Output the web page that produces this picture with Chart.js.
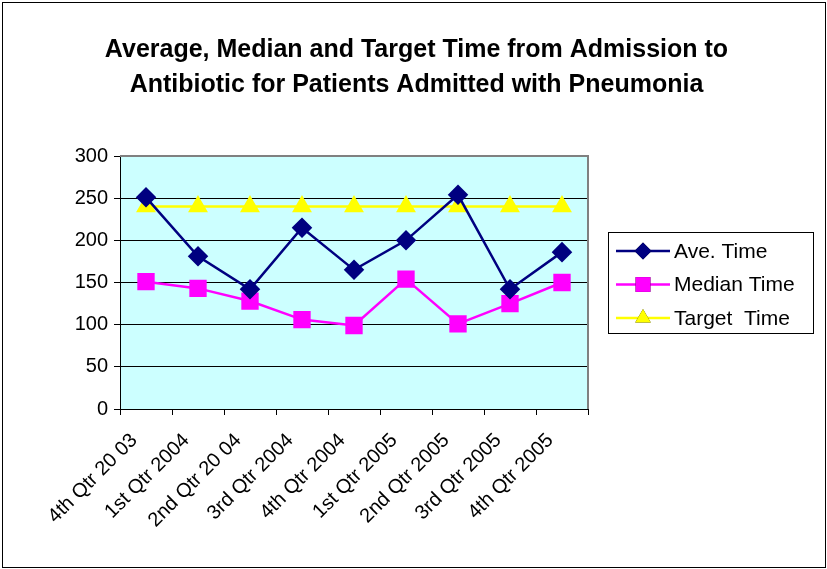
<!DOCTYPE html>
<html>
<head>
<meta charset="utf-8">
<script src="https://cdn.jsdelivr.net/npm/chart.js@4"></script>
<style>
  html, body { margin: 0; padding: 0; background: #fff; }
  #wrap { width: 827px; height: 569px; }
</style>
</head>
<body>
<div id="wrap"><canvas id="grafico" width="827" height="569"></canvas></div>
<script>
const trimestres = ['4th Qtr 20 03', '1st Qtr 2004', '2nd Qtr 20 04', '3rd Qtr 2004', '4th Qtr 2004',
                    '1st Qtr 2005', '2nd Qtr 2005', '3rd Qtr 2005', '4th Qtr 2005'];
const promedio = [251, 181, 142, 215, 165, 200, 254, 142, 186];
const mediana = [151, 143, 128, 106, 99, 154, 101, 125, 150];
const objetivo = [240, 240, 240, 240, 240, 240, 240, 240, 240];
const titulo = ['Average, Median and Target Time from Admission to',
                'Antibiotic for Patients Admitted with Pneumonia'];

const fuente = "'Liberation Sans', Arial, sans-serif";

// fondo del area de trazado, leyenda con borde y marco exterior
const extras = {
    id: 'extras',
    beforeDraw(chart) {
        const { ctx, chartArea: a } = chart;
        ctx.save();
        ctx.fillStyle = '#CCFFFF';
        ctx.fillRect(a.left, a.top, a.right - a.left, a.bottom - a.top);
        ctx.restore();
    },
    afterDraw(chart) {
        const { ctx, chartArea: a } = chart;
        ctx.save();
        ctx.strokeStyle = '#808080';
        ctx.lineWidth = 2;
        ctx.beginPath();
        ctx.moveTo(a.left, a.top);
        ctx.lineTo(a.right, a.top);
        ctx.lineTo(a.right, a.bottom);
        ctx.stroke();

        // leyenda
        const lx = a.right + 20, ly = 232, lw = 205, lh = 101;
        ctx.strokeStyle = '#000';
        ctx.lineWidth = 1;
        ctx.strokeRect(lx + 0.5, ly + 0.5, lw, lh);
        ctx.font = '21px ' + fuente;
        ctx.textBaseline = 'middle';
        ctx.textAlign = 'left';
        chart.data.datasets.forEach((ds, i) => {
            const y = ly + 19 + i * 33.5;
            const x0 = lx + 8, x1 = lx + 62, cx = (x0 + x1) / 2;
            ctx.strokeStyle = ds.borderColor;
            ctx.lineWidth = ds.borderWidth;
            ctx.beginPath();
            ctx.moveTo(x0, y);
            ctx.lineTo(x1, y);
            ctx.stroke();
            Chart.helpers.drawPoint(ctx, {
                pointStyle: ds.pointStyle,
                radius: ds.pointRadius,
                rotation: 0,
                borderWidth: 0
            }, cx, y);
            ctx.fillStyle = ds.backgroundColor;
            ctx.fill();
            ctx.fillStyle = '#000';
            ctx.fillText(ds.label, lx + 66, y + 1);
        });

        ctx.strokeStyle = '#000';
        ctx.lineWidth = 1;
        ctx.strokeRect(2.5, 2.5, chart.width - 4, chart.height - 4);
        ctx.restore();
    }
};

new Chart(document.getElementById('grafico'), {
    type: 'line',
    data: {
        labels: trimestres,
        datasets: [{
            label: 'Ave. Time',
            data: promedio,
            borderColor: '#000080',
            backgroundColor: '#000080',
            borderWidth: 2.5,
            pointStyle: 'rectRot',
            pointRadius: 8.5,
            pointHoverRadius: 8.5,
            fill: false
        }, {
            label: 'Median Time',
            data: mediana,
            borderColor: '#FF00FF',
            backgroundColor: '#FF00FF',
            borderWidth: 2.5,
            pointStyle: 'rect',
            pointRadius: 10.5,
            pointHoverRadius: 10.5,
            fill: false
        }, {
            label: 'Target  Time',
            data: objetivo,
            borderColor: '#FFFF00',
            backgroundColor: '#FFFF00',
            borderWidth: 2.5,
            pointStyle: 'triangle',
            pointRadius: 9,
            pointHoverRadius: 9,
            fill: false
        }]
    },
    options: {
        responsive: false,
        animation: false,
        devicePixelRatio: 1,
        layout: { padding: { top: 33, right: 0, left: 6, bottom: 0 } },
        plugins: {
            title: {
                display: true,
                text: titulo,
                color: '#000',
                font: { family: fuente, size: 25, weight: 'bold', lineHeight: 1.4 },
                padding: { top: 0, bottom: 53 }
            },
            legend: { display: false },
            tooltip: { enabled: false }
        },
        scales: {
            x: {
                offset: true,
                afterFit(scale) { scale.height = 160; },
                grid: {
                    offset: true,
                    drawOnChartArea: false,
                    drawTicks: true,
                    tickLength: 6,
                    color: '#000'
                },
                border: { color: '#000', width: 1 },
                ticks: {
                    color: '#000',
                    font: { family: fuente, size: 20 },
                    maxRotation: 45,
                    minRotation: 45,
                    autoSkip: false,
                    padding: 2,
                    // espacios al final para bajar la etiqueta como en Excel
                    callback(value) { return this.getLabelForValue(value) + '   '; }
                }
            },
            y: {
                min: 0,
                max: 300,
                afterFit(scale) { scale.width = 114; },
                grid: {
                    color: '#000',
                    drawTicks: true,
                    tickLength: 6
                },
                border: { color: '#000', width: 1 },
                ticks: {
                    stepSize: 50,
                    color: '#000',
                    font: { family: fuente, size: 20 },
                    padding: 6
                }
            },
            espacio: {
                type: 'linear',
                position: 'right',
                afterFit(scale) { scale.width = 239; },
                grid: { display: false },
                border: { display: false },
                ticks: { display: false }
            }
        }
    },
    plugins: [extras]
});
</script>
</body>
</html>
